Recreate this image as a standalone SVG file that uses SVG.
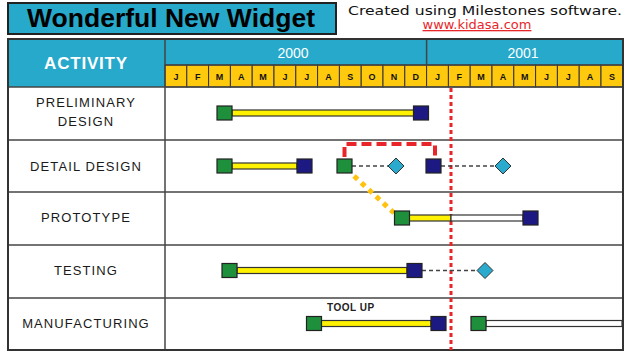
<svg xmlns="http://www.w3.org/2000/svg" width="625" height="353" viewBox="0 0 625 353">
<style>
.lbl{font-family:"Liberation Sans",Arial,sans-serif;font-size:13px;fill:#1a1a1a;text-anchor:middle;letter-spacing:1.1px}
.mon{font-family:"Liberation Sans",Arial,sans-serif;font-size:9px;font-weight:bold;fill:#111;text-anchor:middle}
.yr{font-family:"Liberation Sans",Arial,sans-serif;font-size:14px;fill:#fff;text-anchor:middle}
.grid{stroke:#444;stroke-width:1.5;fill:none}
.cell{fill:#FFC90E;stroke:#333;stroke-width:1}
.bar{fill:#FFF200;stroke:#333;stroke-width:1.2}
.wbar{fill:#fff;stroke:#333;stroke-width:1.2}
.start{fill:#1E8F3A;stroke:#222;stroke-width:1.2}
.end{fill:#1C1A82;stroke:#222;stroke-width:1.2}
.ms{fill:#2AAACC;stroke:#333;stroke-width:1}
.dash{stroke:#444;stroke-width:1.5;stroke-dasharray:4,3;fill:none}
</style>
<rect width="625" height="353" fill="#fff"/>
<g id="title">
<rect x="8" y="3" width="328" height="31" fill="#27A9CB" stroke="#222" stroke-width="2"/>
<text x="27" y="27" font-family="'Liberation Sans',Arial,sans-serif" font-size="25" font-weight="bold" fill="#000" textLength="288" lengthAdjust="spacingAndGlyphs">Wonderful New Widget</text>
</g>
<g id="credits">
<text x="348" y="15" font-family="'DejaVu Sans',Verdana,sans-serif" font-size="13" fill="#111" textLength="274" lengthAdjust="spacingAndGlyphs">Created using Milestones software.</text>
<text x="477" y="29" font-family="'DejaVu Sans',Verdana,sans-serif" font-size="13" fill="#E8262A" text-anchor="middle" text-decoration="underline">www.kidasa.com</text>
</g>
<g id="table">
<rect x="8" y="39" width="157" height="48" fill="#27A9CB"/>
<rect x="165" y="39" width="458" height="26" fill="#27A9CB"/>
<g id="months">
<rect class="cell" x="165" y="65" width="21.8" height="22"/><rect class="cell" x="186.8" y="65" width="21.8" height="22"/><rect class="cell" x="208.6" y="65" width="21.8" height="22"/><rect class="cell" x="230.4" y="65" width="21.8" height="22"/><rect class="cell" x="252.2" y="65" width="21.8" height="22"/><rect class="cell" x="274" y="65" width="21.8" height="22"/><rect class="cell" x="295.8" y="65" width="21.8" height="22"/><rect class="cell" x="317.6" y="65" width="21.8" height="22"/><rect class="cell" x="339.4" y="65" width="21.8" height="22"/><rect class="cell" x="361.2" y="65" width="21.8" height="22"/><rect class="cell" x="383" y="65" width="21.8" height="22"/><rect class="cell" x="404.8" y="65" width="21.8" height="22"/><rect class="cell" x="426.6" y="65" width="21.8" height="22"/><rect class="cell" x="448.4" y="65" width="21.8" height="22"/><rect class="cell" x="470.2" y="65" width="21.8" height="22"/><rect class="cell" x="492" y="65" width="21.8" height="22"/><rect class="cell" x="513.8" y="65" width="21.8" height="22"/><rect class="cell" x="535.6" y="65" width="21.8" height="22"/><rect class="cell" x="557.4" y="65" width="21.8" height="22"/><rect class="cell" x="579.2" y="65" width="21.8" height="22"/><rect class="cell" x="601" y="65" width="22" height="22"/>
<text class="mon" x="175.9" y="79.5">J</text><text class="mon" x="197.7" y="79.5">F</text><text class="mon" x="219.5" y="79.5">M</text><text class="mon" x="241.3" y="79.5">A</text><text class="mon" x="263.1" y="79.5">M</text><text class="mon" x="284.9" y="79.5">J</text><text class="mon" x="306.7" y="79.5">J</text><text class="mon" x="328.5" y="79.5">A</text><text class="mon" x="350.3" y="79.5">S</text><text class="mon" x="372.1" y="79.5">O</text><text class="mon" x="393.9" y="79.5">N</text><text class="mon" x="415.7" y="79.5">D</text><text class="mon" x="437.5" y="79.5">J</text><text class="mon" x="459.3" y="79.5">F</text><text class="mon" x="481.1" y="79.5">M</text><text class="mon" x="502.9" y="79.5">A</text><text class="mon" x="524.7" y="79.5">M</text><text class="mon" x="546.5" y="79.5">J</text><text class="mon" x="568.3" y="79.5">J</text><text class="mon" x="590.1" y="79.5">A</text><text class="mon" x="612" y="79.5">S</text>
</g>
<text class="yr" x="293" y="58">2000</text>
<text class="yr" x="523" y="58">2001</text>
<text x="86" y="69" font-family="'Liberation Sans',Arial,sans-serif" font-size="17" font-weight="bold" fill="#fff" text-anchor="middle" letter-spacing="0.8">ACTIVITY</text>
<line class="grid" x1="165" y1="39" x2="165" y2="350"/>
<line class="grid" x1="426.6" y1="39" x2="426.6" y2="65"/>
<line class="grid" x1="165" y1="65" x2="623" y2="65"/>
<line class="grid" x1="8" y1="87" x2="623" y2="87"/>
<line class="grid" x1="8" y1="140" x2="623" y2="140"/>
<line class="grid" x1="8" y1="192" x2="623" y2="192"/>
<line class="grid" x1="8" y1="245" x2="623" y2="245"/>
<line class="grid" x1="8" y1="298" x2="623" y2="298"/>
<rect x="8" y="39" width="615" height="311" fill="none" stroke="#333" stroke-width="2"/>
</g>
<g id="labels">
<text class="lbl" x="86" y="107">PRELIMINARY</text>
<text class="lbl" x="86" y="126">DESIGN</text>
<text class="lbl" x="86" y="170.5">DETAIL DESIGN</text>
<text class="lbl" x="86" y="221.5">PROTOTYPE</text>
<text class="lbl" x="86" y="274.5">TESTING</text>
<text class="lbl" x="86" y="327.5">MANUFACTURING</text>
</g>
<g id="connectors">
<line x1="451" y1="88" x2="451" y2="350" stroke="#E8262A" stroke-width="3" stroke-dasharray="4,3"/>
<path d="M344.5,157 V144 H435 V157" fill="none" stroke="#E8262A" stroke-width="4" stroke-dasharray="10,5"/>
<line x1="354" y1="176" x2="394" y2="213" stroke="#FFC20E" stroke-width="5" stroke-dasharray="5,5"/>
<line class="dash" x1="352" y1="166" x2="388" y2="166"/>
<line class="dash" x1="441" y1="166" x2="495" y2="166"/>
<line class="dash" x1="422" y1="270.5" x2="477" y2="270.5"/>
</g>
<g id="preliminary">
<rect class="bar" x="232" y="110" width="182" height="6"/>
<rect class="start" x="217" y="106" width="15" height="14"/>
<rect class="end" x="413.5" y="106" width="15" height="14"/>
</g>
<g id="detail">
<rect class="bar" x="232" y="163" width="65" height="6"/>
<rect class="start" x="217" y="159" width="15" height="14"/>
<rect class="end" x="297" y="159" width="15" height="14"/>
<rect class="start" x="337" y="159" width="15" height="14"/>
<polygon class="ms" points="396,158 404,166 396,174 388,166"/>
<rect class="end" x="426" y="159" width="15" height="14"/>
<polygon class="ms" points="503,158 511,166 503,174 495,166"/>
</g>
<g id="prototype">
<rect class="bar" x="409" y="215" width="42" height="6"/>
<rect class="wbar" x="451" y="215" width="72" height="6"/>
<rect class="start" x="394.5" y="211" width="15" height="14"/>
<rect class="end" x="523" y="211" width="15" height="14"/>
</g>
<g id="testing">
<rect class="bar" x="237" y="267.5" width="170" height="6"/>
<rect class="start" x="222" y="263.5" width="15" height="14"/>
<rect class="end" x="407" y="263.5" width="15" height="14"/>
<polygon class="ms" points="485,262.5 493,270.5 485,278.5 477,270.5"/>
</g>
<g id="manufacturing">
<text x="327" y="311" font-family="'Liberation Sans',Arial,sans-serif" font-size="10" font-weight="bold" fill="#222" letter-spacing="0.5">TOOL UP</text>
<rect class="bar" x="321" y="320.5" width="110" height="6"/>
<rect class="start" x="306.5" y="316.5" width="15" height="14"/>
<rect class="end" x="431" y="316.5" width="15" height="14"/>
<rect class="wbar" x="486" y="320.5" width="136" height="6"/>
<rect class="start" x="471" y="316.5" width="15" height="14"/>
</g>
</svg>
